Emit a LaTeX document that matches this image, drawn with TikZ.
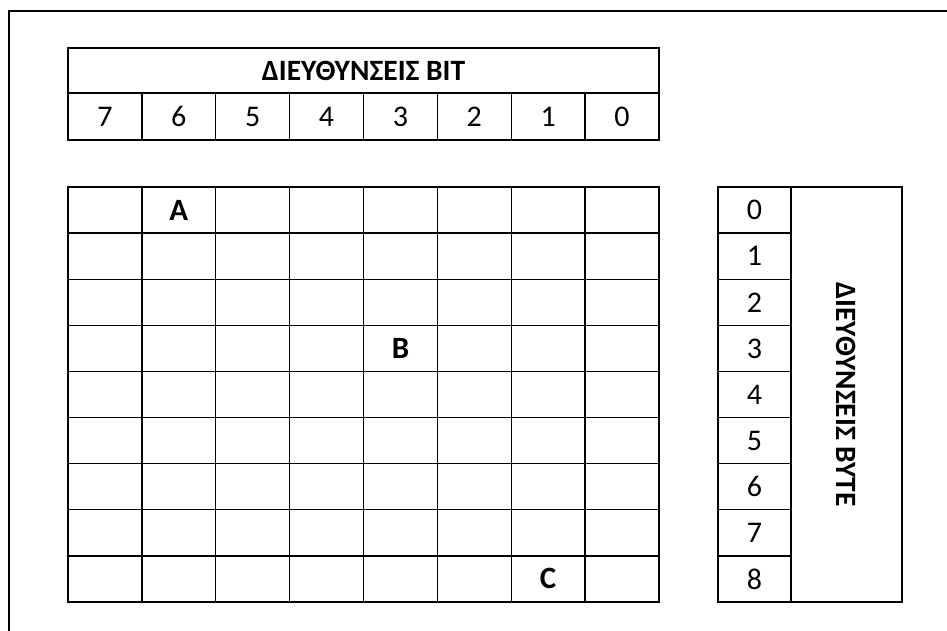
\documentclass[tikz,border=0pt]{standalone}
\usepackage{fontspec}
\setmainfont{Carlito}
\begin{document}
\begin{tikzpicture}[x=1pt,y=-1pt,
  cell/.style={draw=black,line width=1.3pt,minimum width=73.875pt,minimum height=46.11pt,inner sep=0pt,anchor=center,font=\fontsize{30}{34}\selectfont},
  bold/.style={font=\fontsize{31}{35}\selectfont\bfseries},
  head/.style={font=\fontsize{29.5}{34}\selectfont\bfseries},
]
\useasboundingbox (0,0) rectangle (947,631);
% outer frame (cut at right and bottom)
\coordinate (fa) at (9,631);
\coordinate (fb) at (9,11);
\coordinate (fc) at (947,11);
\draw[line width=1.5pt] (fa) -- (fb) -- (fc);
% top table
\node[draw,line width=1.3pt,minimum width=591pt,minimum height=45pt,inner sep=0pt,head] (title) at (363.5,70.5) {ΔΙΕΥΘΥΝΣΕΙΣ BIT};
\foreach \i/\b in {0/7,1/6,2/5,3/4,4/3,5/2,6/1,7/0}{
  \node[cell,minimum height=47pt] (bit\b) at ({68+73.875*(\i+0.5)},116.5) {\b};
}
% main grid
\foreach \r in {0,...,8}{
  \foreach \c in {0,...,7}{
    \node[cell] (g\r\c) at ({68+73.875*(\c+0.5)},{187+46.11*(\r+0.5)}) {};
  }
}
\node[bold] (A) at (g01) {A};
\node[bold] (B) at (g34) {B};
\node[bold] (C) at (g86) {C};
% byte table
\foreach \r in {0,...,8}{
  \node[cell,minimum width=73pt] (byte\r) at (754.5,{187+46.11*(\r+0.5)}) {\r};
}
\node[draw,line width=1.3pt,minimum width=111pt,minimum height=415pt,inner sep=0pt] (bytebox) at (846.5,394.5) {};
\node[rotate=-90,head] (bytelabel) at (bytebox) {ΔΙΕΥΘΥΝΣΕΙΣ BYTE};
\end{tikzpicture}
\end{document}
